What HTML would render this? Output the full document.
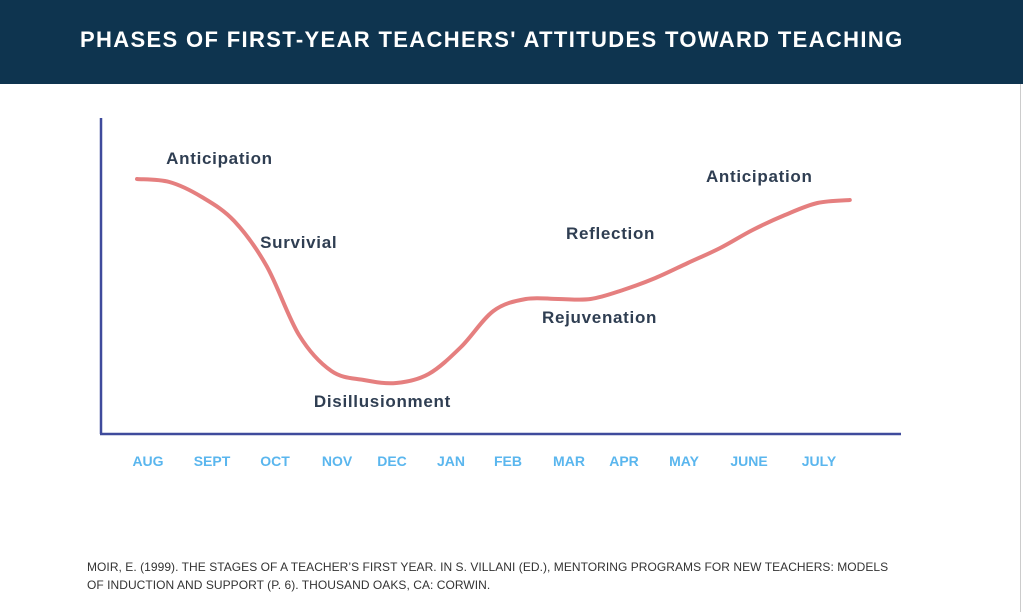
<!DOCTYPE html>
<html><head><meta charset="utf-8"><style>
body{margin:0;width:1023px;height:612px;background:#fff;overflow:hidden;font-family:"Liberation Sans",sans-serif;position:relative}
#hdr{position:absolute;left:0;top:0;width:1023px;height:84px;background:#0e344f}
#hdr h1{margin:0;position:absolute;left:80px;top:27px;color:#fff;font-size:22px;font-weight:bold;letter-spacing:1.35px;white-space:nowrap}
#cite{position:absolute;left:87px;top:558px;font-size:12px;color:#333;line-height:18px;letter-spacing:0.05px;white-space:nowrap}
#edge{position:absolute;right:2px;top:84px;width:1px;height:528px;background:#ccc}
</style></head><body>
<div id="hdr"><h1>PHASES OF FIRST-YEAR TEACHERS' ATTITUDES TOWARD TEACHING</h1></div>
<div id="edge"></div>
<svg id="chart" width="1023" height="612" style="position:absolute;left:0;top:0"></svg>
<div id="cite">MOIR, E. (1999). THE STAGES OF A TEACHER’S FIRST YEAR. IN S. VILLANI (ED.), MENTORING PROGRAMS FOR NEW TEACHERS: MODELS<br>OF INDUCTION AND SUPPORT (P. 6). THOUSAND OAKS, CA: CORWIN.</div>
<script>
const months=["AUG","SEPT","OCT","NOV","DEC","JAN","FEB","MAR","APR","MAY","JUNE","JULY"];
const monthLabelX=[148,212,275,337,392,451,508,569,624,684,749,819];
const curveT=[0,0.5,1,1.5,2,2.5,3,3.5,4,4.5,5,5.5,6,6.5,7,7.5,8,8.5,9,9.5,10,10.5,11];
const curveV=[85,84,79,71,56,33,21,18,17,20,29,41,45,45,45,48,52,57,62,68,73,77,78];
const phaseNames=["Anticipation","Survivial","Disillusionment","Rejuvenation","Reflection","Anticipation"];
const phaseT=[0.45,1.9,2.73,6.25,6.62,8.78];
const phaseV=[92,64,11,39,67,86];
const NS="http://www.w3.org/2000/svg";
const svg=document.getElementById('chart');
const xs=t=>137+t*64.8;
const ys=v=>434-v*3;
function mk(tag,attrs){const e=document.createElementNS(NS,tag);for(const k in attrs)e.setAttribute(k,attrs[k]);svg.appendChild(e);return e;}
const ya=mk('line',{x1:101,y1:118,x2:101,y2:434,stroke:'#3f4b9c','stroke-width':2.5});


const xa=mk('line',{x1:100,y1:434,x2:901,y2:434,stroke:'#3f4b9c','stroke-width':2.5});


const P=curveT.map((t,i)=>[xs(t),ys(curveV[i])]);
let d='M'+P[0][0]+','+P[0][1];
for(let i=0;i<P.length-1;i++){const p0=P[Math.max(0,i-1)],p1=P[i],p2=P[i+1],p3=P[Math.min(P.length-1,i+2)];
d+=` C${p1[0]+(p2[0]-p0[0])/6},${p1[1]+(p2[1]-p0[1])/6} ${p2[0]-(p3[0]-p1[0])/6},${p2[1]-(p3[1]-p1[1])/6} ${p2[0]},${p2[1]}`;}
const line=mk('path',{d:d,fill:'none',stroke:'#e57f7f','stroke-width':4,'stroke-linecap':'round'});


months.forEach((m,i)=>{const t=mk('text',{x:monthLabelX[i],y:466,'text-anchor':'middle','font-size':14,'font-weight':'bold',fill:'#5ab6ee','font-family':'Liberation Sans, sans-serif'});t.textContent=m;

});
phaseNames.forEach((n,i)=>{const t=mk('text',{x:xs(phaseT[i]),y:ys(phaseV[i])+6,'font-size':17,'font-weight':'bold',fill:'#2f3e52','letter-spacing':0.7,'font-family':'Liberation Sans, sans-serif'});t.textContent=n;

});
</script>
</body></html>
